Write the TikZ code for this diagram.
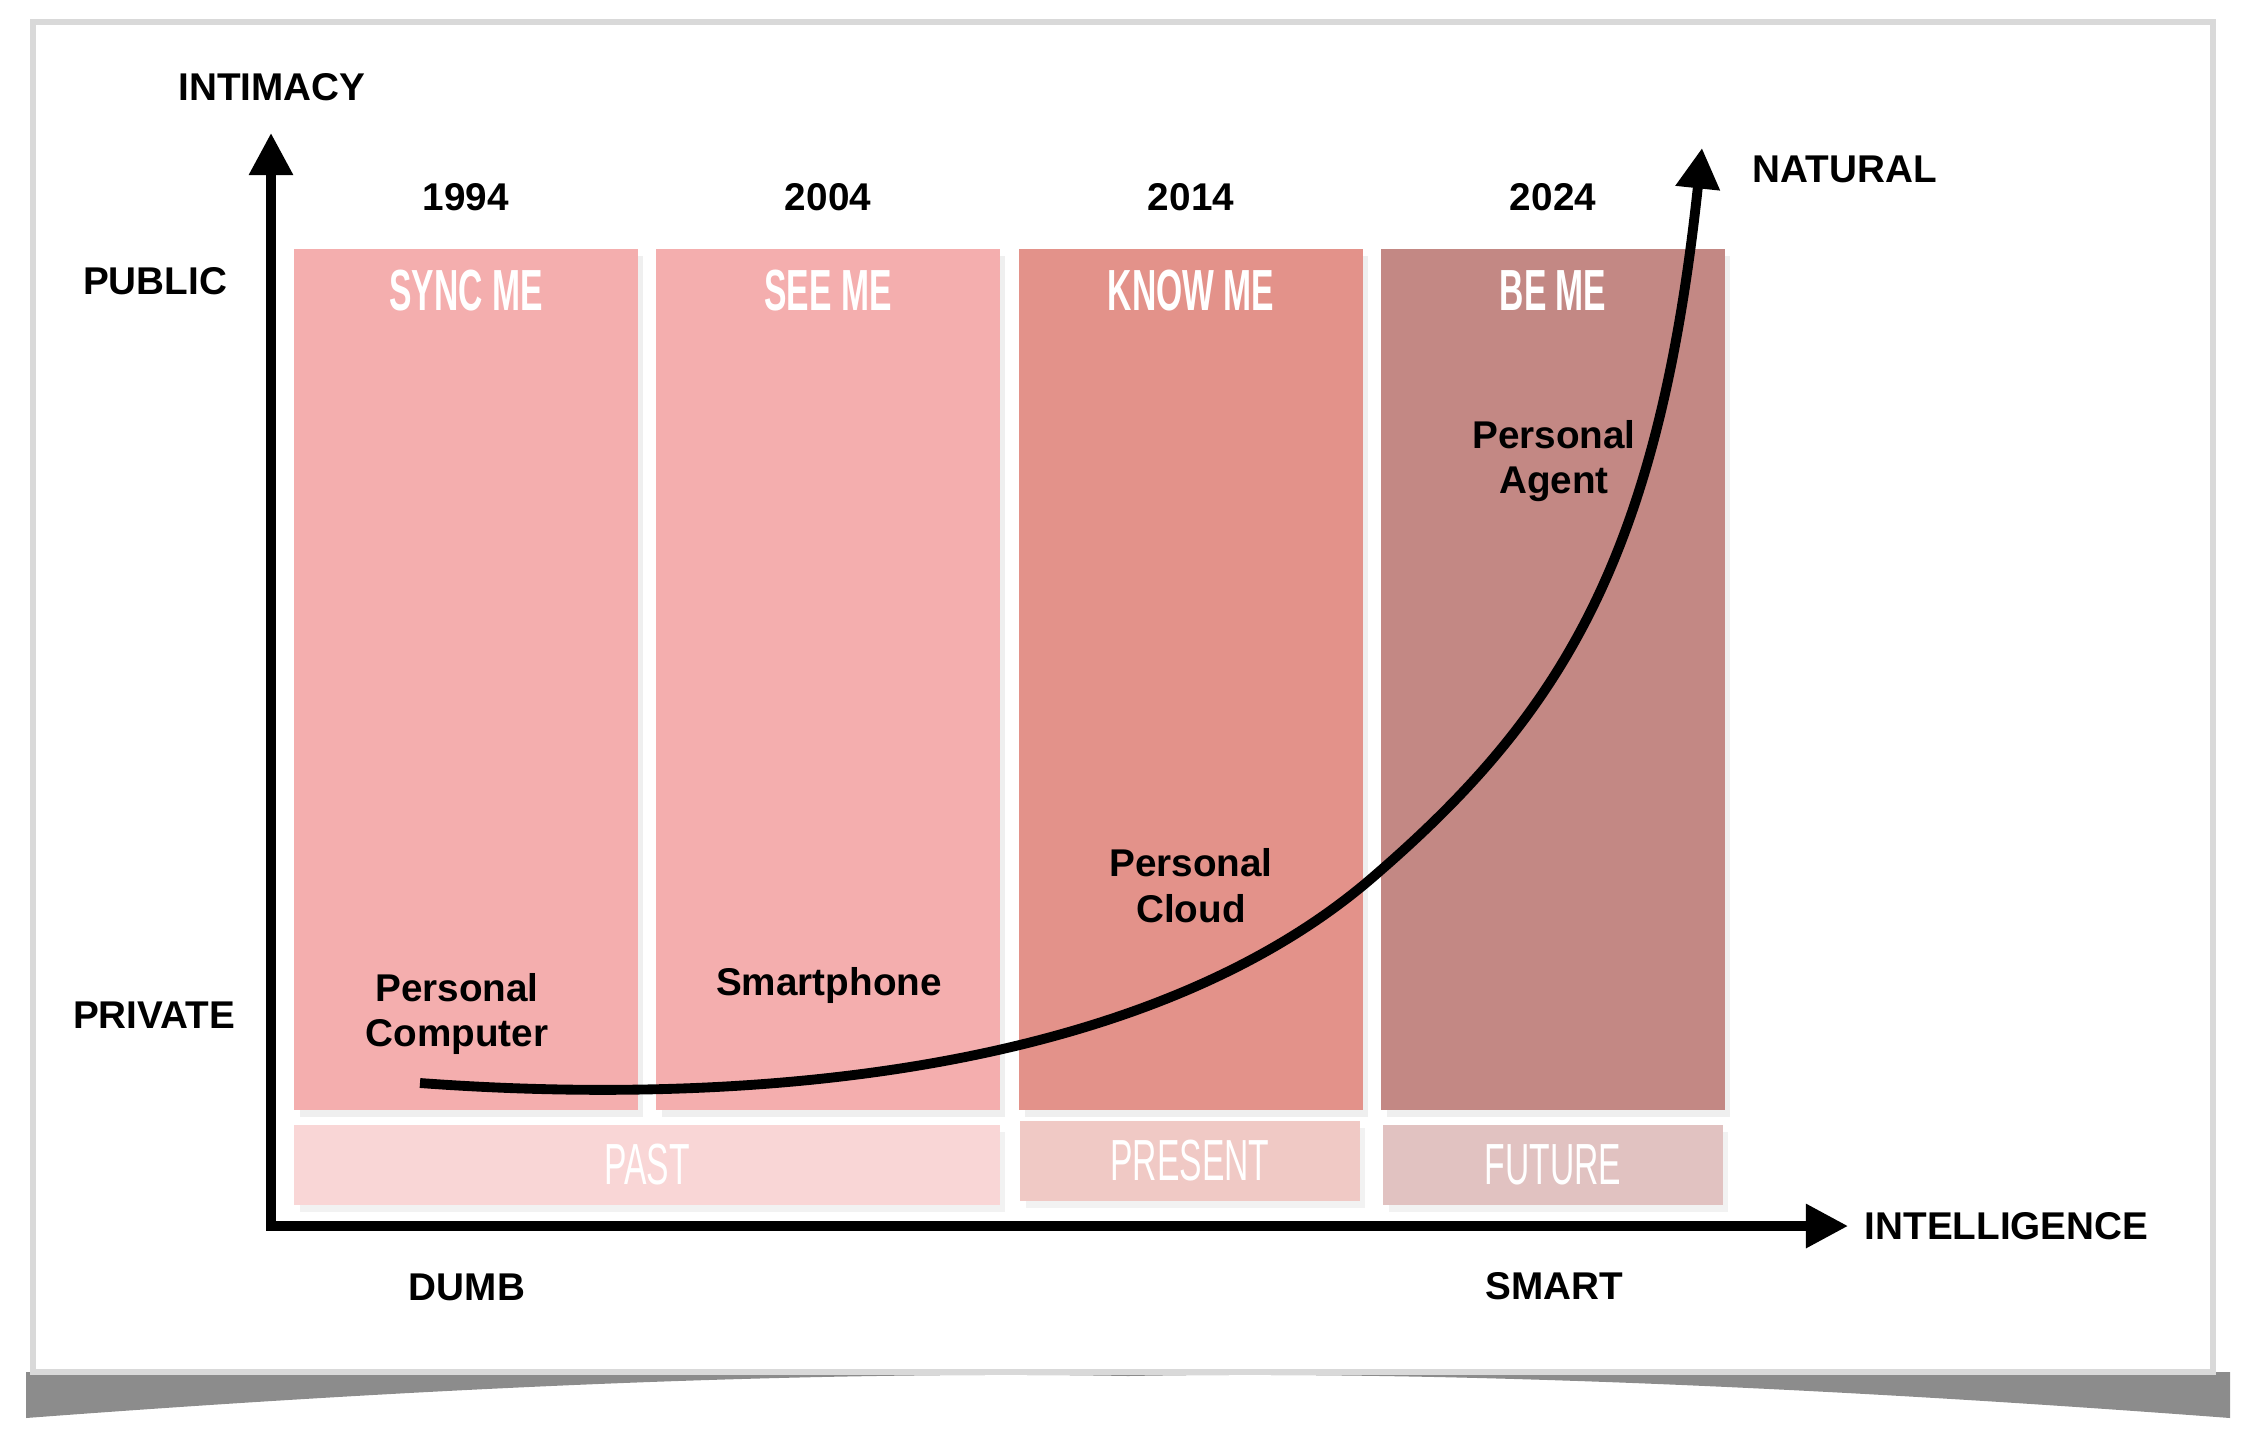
\documentclass[tikz,border=0pt]{standalone}
\usepackage{fontspec}
\setmainfont{Liberation Sans}
\newfontfamily\narrowfont[FakeStretch=0.58]{Liberation Sans}
\usetikzlibrary{arrows.meta,shadows}

\definecolor{syncpink}{HTML}{F4AEAE}
\definecolor{knowpink}{HTML}{E3928A}
\definecolor{bemauve}{HTML}{C38884}
\definecolor{pastpink}{HTML}{F9D6D6}
\definecolor{presentpink}{HTML}{F0C9C5}
\definecolor{futurepink}{HTML}{E1C2C1}

\begin{document}
\begin{tikzpicture}[x=0.01cm,y=-0.01cm]
\tikzstyle{every node}=[font=\fontsize{11}{13}\selectfont\bfseries,align=center,inner sep=0pt]
\tikzstyle{era}=[minimum width=3.43cm,minimum height=8.61cm,anchor=north,
  drop shadow={opacity=0.12,shadow xshift=1.5pt,shadow yshift=-2pt}]
\tikzstyle{period}=[minimum height=0.8cm,anchor=north,text=white,
  font=\narrowfont\fontsize{16.5}{18}\selectfont,
  drop shadow={opacity=0.10,shadow xshift=1.5pt,shadow yshift=-2pt}]
\tikzstyle{title}=[text=white,font=\narrowfont\fontsize{16.5}{18}\selectfont\bfseries]
\tikzstyle{axis}=[line width=2.6pt,{Triangle[length=12pt,width=12pt]}-{Triangle[length=12pt,width=12pt]}]
\tikzstyle{curve}=[line width=2.8pt,-{Triangle[length=11.5pt,width=12pt]}]

\useasboundingbox (0,0) rectangle (2258,1436);

% card and its shadow
\shade[left color=black!45,middle color=black!6,right color=black!45] (26,1372) -- (2230,1372) -- (2230,1418)
  .. controls (1700,1378) and (1350,1372) .. (1128,1376)
  .. controls (906,1372) and (556,1378) .. (26,1418) -- cycle;
\filldraw[fill=white,draw=black!15,line width=1.5pt] (33,22) rectangle (2213,1372);

% eras
\node[era,fill=syncpink] (sync) at (466,248) {};
\node[era,fill=syncpink] (see) at (828,248) {};
\node[era,fill=knowpink] (know) at (1191,248) {};
\node[era,fill=bemauve] (be) at (1553,248) {};

\node[title] (synct) at ([yshift=-12pt]sync.north) {SYNC ME};
\node[title] (seet) at ([yshift=-12pt]see.north) {SEE ME};
\node[title] (knowt) at ([yshift=-12pt]know.north) {KNOW ME};
\node[title] (bet) at ([yshift=-12pt]be.north) {BE ME};

\node (y1994) at ([yshift=14.5pt]sync.north) {1994};
\node (y2004) at ([yshift=14.5pt]see.north) {2004};
\node (y2014) at ([yshift=14.5pt]know.north) {2014};
\node (y2024) at ([yshift=14.5pt]be.north) {2024};

% past, present, future
\node[period,fill=pastpink,minimum width=7.05cm] (past) at (647,1124) {PAST};
\node[period,fill=presentpink,minimum width=3.39cm] (present) at (1190,1120) {PRESENT};
\node[period,fill=futurepink,minimum width=3.39cm] (future) at (1553,1124) {FUTURE};

% axes
\coordinate (o) at (271,1226);
\coordinate (ytip) at (271,133);
\coordinate (xtip) at (1848,1226);
\draw[axis] (ytip) -- (o) -- (xtip);

\node (intimacy) at (272,87) {INTIMACY};
\node (public) at (155,281) {PUBLIC};
\node (private) at (154,1015) {PRIVATE};
\node (dumb) at (467,1287) {DUMB};
\node (smart) at (1554,1286) {SMART};
\node[anchor=west] (intel) at (1864,1226) {INTELLIGENCE};
\node[anchor=west] (natural) at (1752,169) {NATURAL};

% devices
\node (pc) at (457,1014) {Personal\\Computer};
\node (phone) at (829,985) {Smartphone};
\node (cloud) at (1191,886) {Personal\\Cloud};
\node (agent) at (1554,461) {Personal\\Agent};

\coordinate (start) at (420,1083);
\coordinate (mid) at (1373,877);
\coordinate (tip) at (1702,148);
\draw[curve] (start) .. controls (760,1108) and (1150,1070) .. (mid)
  .. controls (1560,716) and (1658,560) .. (tip);
\end{tikzpicture}
\end{document}
